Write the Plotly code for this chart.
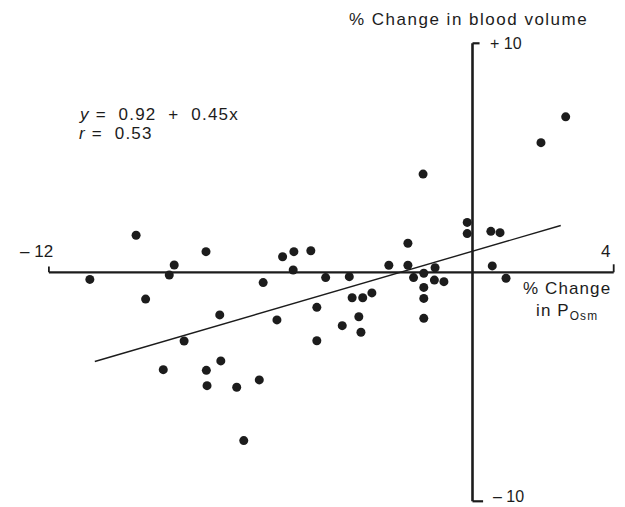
import plotly.graph_objects as go

# Data (% change in P_Osm vs % change in blood volume)
x_posm = [-10.84, -9.53, -8.45, -8.59, -9.26, -7.55, -7.16, -5.93, -5.38, -5.06,
          -4.58, -5.08, -5.54, -4.41, -8.17, -4.41, -8.76, -7.54, -7.13, -7.52,
          -6.68, -6.04, -6.48, -3.69, -3.16, 1.94, 2.64, -1.40, -0.15, -0.15,
          0.52, 0.78, -1.83, -2.37, -1.83, -1.06, 0.56, -4.16, -3.49, -1.67,
          -1.38, -1.08, -0.81, 0.95, -1.38, -1.38, -1.38, -3.41, -3.11, -2.85,
          -3.22]
y_bv = [-0.31, 1.62, 0.32, -0.12, -1.17, 0.90, -1.86, -0.45, 0.68, 0.90,
        0.94, 0.10, -2.08, -1.53, -3.00, -2.99, -4.25, -4.28, -3.87, -4.95,
        -5.02, -4.70, -7.35, -2.33, -2.62, 5.66, 6.79, 4.29, 2.18, 1.69,
        1.79, 1.73, 1.27, 0.31, 0.31, 0.20, 0.28, -0.23, -0.19, -0.23,
        -0.04, -0.34, -0.41, -0.26, -0.66, -1.14, -2.01, -1.11, -1.11, -0.90,
        -1.94]

# Regression y = 0.92 + 0.45x
intercept = 0.92
slope = 0.45
fit_x = [-10.7, 2.5]
fit_y = [intercept + slope * v for v in fit_x]

x_lim = [-12, 4]
y_lim = [-10, 10]

INK = "#1c1c1c"
FONT = "Liberation Sans, Arial, sans-serif"

fig = go.Figure()
fig.add_trace(go.Scatter(x=fit_x, y=fit_y, mode="lines",
                         line=dict(color=INK, width=1.4), hoverinfo="skip"))
fig.add_trace(go.Scatter(x=x_posm, y=y_bv, mode="markers",
                         marker=dict(color=INK, size=9, line=dict(width=0)),
                         hoverinfo="skip"))

# axes drawn as cross through origin
shapes = [
    dict(type="line", x0=0, x1=0, y0=y_lim[0], y1=y_lim[1], line=dict(color=INK, width=2.6)),
    dict(type="line", x0=0, x1=0.2, y0=y_lim[1], y1=y_lim[1], line=dict(color=INK, width=2.2)),
    dict(type="line", x0=0, x1=0.3, y0=y_lim[0], y1=y_lim[0], line=dict(color=INK, width=2.2)),
    dict(type="line", x0=x_lim[0], x1=x_lim[1], y0=0, y1=0, line=dict(color=INK, width=2.2)),
    dict(type="line", x0=x_lim[0], x1=x_lim[0], y0=0, y1=0.25, line=dict(color=INK, width=1.8)),
    dict(type="line", x0=x_lim[1], x1=x_lim[1], y0=0, y1=0.35, line=dict(color=INK, width=1.8)),
]

def ann(text, x, y, xanchor="center", yanchor="middle", size=17, align="center"):
    return dict(text=text, x=x, y=y, xref="x", yref="y", xanchor=xanchor, yanchor=yanchor,
                showarrow=False, align=align, font=dict(family=FONT, size=size, color=INK))

def sp(text, px):
    return '<span style="letter-spacing:%spx">%s</span>' % (px, text)

annotations = [
    ann(sp("% Change in blood volume", 1.5), -0.1, 11.05),
    ann("+ 10", 0.45, 10.0, xanchor="left", size=16),
    ann("\u2013 10", 0.52, -9.8, xanchor="left", size=16),
    ann("\u2013 12", -12.36, 0.9),
    ann("4", 3.78, 0.9),
    ann(sp("% Change", 1.1) + "<br>" + sp("in P<sub>Osm</sub>", 1.1), 2.68, -1.25),
    ann(sp("<i>y</i> =\u00a0\u00a00.92\u00a0\u00a0+\u00a0\u00a00.45x", 1.2), -11.2, 6.87, xanchor="left"),
    ann(sp("<i>r</i> =\u00a0\u00a00.53", 1.2), -11.2, 6.08, xanchor="left"),
]

px_per_x = 35.3
px_per_y = 22.9
ox, oy = 472.5, 272.3
W, H = 625, 507

fig.update_layout(
    width=W, height=H, margin=dict(l=0, r=0, t=0, b=0),
    paper_bgcolor="white", plot_bgcolor="white", showlegend=False,
    xaxis=dict(range=[-ox / px_per_x, (W - ox) / px_per_x], visible=False, fixedrange=True),
    yaxis=dict(range=[-(H - oy) / px_per_y, oy / px_per_y], visible=False, fixedrange=True),
    shapes=shapes, annotations=annotations,
)

fig.write_html("out.html")
